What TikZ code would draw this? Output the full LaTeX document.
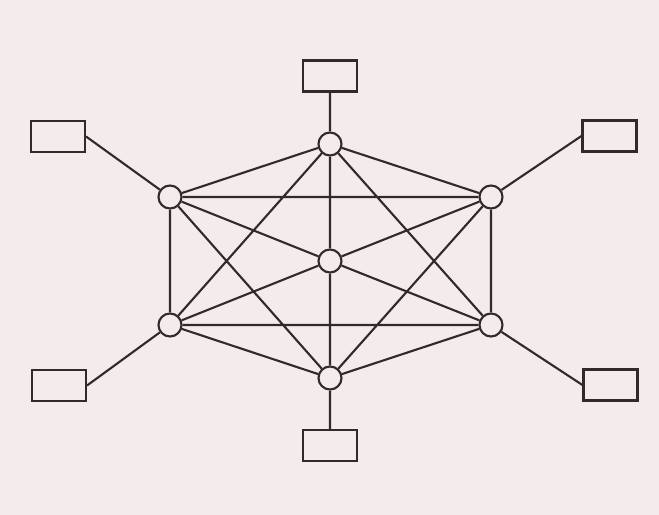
\documentclass[tikz,border=0pt]{standalone}
\usetikzlibrary{positioning}
\definecolor{paper}{RGB}{244,236,236}
\definecolor{ink}{RGB}{50,42,42}

\begin{document}
\begin{tikzpicture}[
    hub/.style={circle, draw=ink, fill=paper, line width=1.2pt, minimum size=0.46cm, inner sep=0pt},
    box/.style={rectangle, draw=ink, line width=1.2pt, minimum width=1.08cm, minimum height=0.62cm, inner sep=0pt},
    link/.style={draw=ink, line width=1.2pt}
  ]
      \fill[paper] (0,0) rectangle (13.18,10.3);
      % hubs of the hexagon and the centre
      \node[hub] (A) at (6.6,7.42) {};
      \node[hub] (B) at (9.82,6.36) {};
      \node[hub] (C) at (9.82,3.8) {};
      \node[hub] (D) at (6.6,2.74) {};
      \node[hub] (E) at (3.4,3.8) {};
      \node[hub] (F) at (3.4,6.36) {};
      \node[hub] (O) at (6.6,5.08) {};
      % terminals
      \node[box] (tA) at (6.6,8.78) {};
      \node[box] (tB) at (12.19,7.58) {};
      \node[box] (tC) at (12.21,2.6) {};
      \node[box] (tD) at (6.6,1.39) {};
      \node[box] (tE) at (1.18,2.59) {};
      \node[box] (tF) at (1.16,7.57) {};
      % mesh
      \path[link] (O) -- (A) (O) -- (B) (O) -- (C) (O) -- (D) (O) -- (E) (O) -- (F);
      \path[link] (A) -- (B) (B) -- (C) (C) -- (D) (D) -- (E) (E) -- (F) (F) -- (A);
      \path[link] (A) -- (C) (A) -- (E) (B) -- (D) (B) -- (F) (C) -- (E) (D) -- (F);
      % drops to the terminals
      \path[link] (tA.south) -- (A) (tB.west) -- (B) (tC.west) -- (C)
                  (tD.north) -- (D) (tE.east) -- (E) (tF.east) -- (F);
    \end{tikzpicture}
\end{document}
